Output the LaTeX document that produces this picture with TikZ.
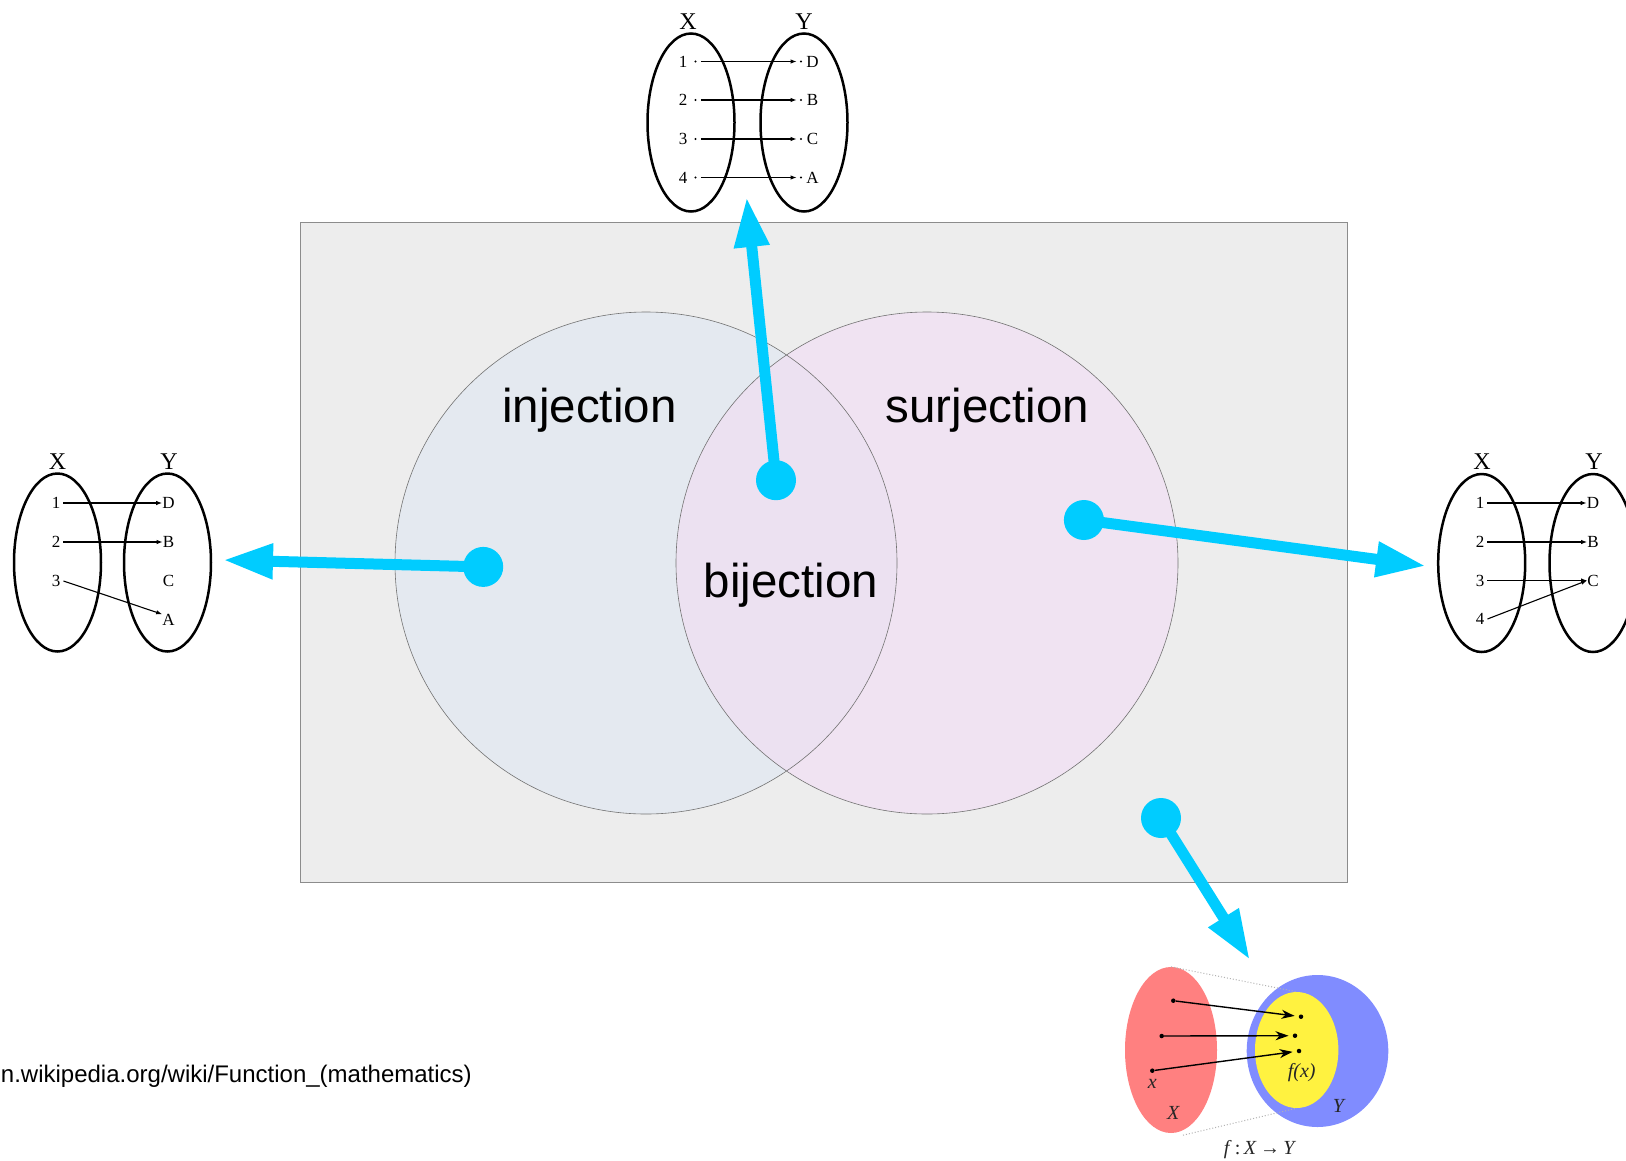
\documentclass[tikz,border=0pt]{standalone}
\usepackage{fontspec}
\setmainfont{Liberation Serif}
\setsansfont{Liberation Sans}
\usetikzlibrary{arrows.meta,shapes.geometric}

\definecolor{pointer}{RGB}{0,204,255}
\definecolor{universebg}{RGB}{237,237,237}
\definecolor{injfill}{RGB}{228,233,240}
\definecolor{surfill}{RGB}{240,227,242}
\definecolor{bijfill}{RGB}{236,225,241}
\definecolor{domred}{RGB}{255,128,128}
\definecolor{codblue}{RGB}{128,140,255}
\definecolor{imgyellow}{RGB}{255,242,64}

\tikzset{
  setoval/.style={draw=black, line width=2.5pt, ellipse, inner sep=0pt,
                  minimum width=87pt, minimum height=178pt},
  elem/.style={font=\fontsize{17}{20}\selectfont, inner sep=0pt},
  setlbl/.style={font=\fontsize{24}{28}\selectfont, inner sep=0pt},
  maparrow/.style={-{Latex[length=6pt,width=4.5pt]}, line width=1.1pt},
  elemdot/.style={circle, fill=black, inner sep=0pt, minimum size=2.4pt},
  bluedot/.style={circle, fill=pointer, inner sep=0pt, minimum size=40pt},
  bluearrow/.style={draw=pointer, line width=11pt,
                    -{Triangle[length=50pt,width=33pt]}},
  venntext/.style={font=\sffamily\fontsize{47.5}{55}\selectfont, inner sep=0pt, anchor=base},
  smallit/.style={font=\itshape\fontsize{20}{24}\selectfont, inner sep=0pt, text=black!85},
  imgarrow/.style={-{Stealth[length=13pt,width=9pt,inset=4pt]}, line width=1.4pt},
}

\begin{document}
\begin{tikzpicture}[x=1pt,y=-1pt]
\path[use as bounding box, fill=white] (0,0) rectangle (1626,1160);

% universe of functions
\node[draw=black!45, fill=universebg, line width=0.7pt, inner sep=0pt,
      minimum width=1046.4pt, minimum height=660.6pt] (universe) at (824,552.2) {};

% injective / surjective regions
\fill[injfill] (646,563) circle[radius=251pt];
\fill[surfill] (927,563) circle[radius=251pt];
\begin{scope}
  \clip (646,563) circle[radius=251pt];
  \fill[bijfill] (927,563) circle[radius=251pt];
\end{scope}
\draw[black!55, line width=0.6pt] (646,563) circle[radius=251pt];
\draw[black!55, line width=0.6pt] (927,563) circle[radius=251pt];

\node[venntext] (inj) at (589.4,422.5) {injection};
\node[venntext] (sur) at (987.3,422.5) {surjection};
\node[venntext] (bij) at (791,597) {bijection};

% ---- bijection example (top)
\node[setoval] (bX) at (691,122.5) {};
\node[setoval] (bY) at (804,122.5) {};
\node[setlbl] (bXl) at (688,22) {X};
\node[setlbl] (bYl) at (804,22) {Y};
\foreach \i/\y/\l in {1/61.5/D, 2/100/B, 3/139/C, 4/177.5/A}{
  \node[elem] (bn\i) at (683,\y) {\i};
  \node[elemdot] (bs\i) at (695.5,\y) {};
  \node[elemdot] (bt\i) at (801,\y) {};
  \node[elem] (bl\i) at (812.5,\y) {\l};
  \draw[maparrow, shorten <=4pt, shorten >=3pt] (bs\i) -- (bt\i);
}

% ---- injection example (left)
\node[setoval] (iX) at (57.5,562.5) {};
\node[setoval] (iY) at (167.5,562.5) {};
\node[setlbl] (iXl) at (57.5,462) {X};
\node[setlbl] (iYl) at (169,462) {Y};
\node[elem] (in1) at (56,503) {1};
\node[elem] (in2) at (56,542) {2};
\node[elem] (in3) at (56,581) {3};
\node[elem] (ilD) at (168.5,503) {D};
\node[elem] (ilB) at (168.5,542) {B};
\node[elem] (ilC) at (168.5,581) {C};
\node[elem] (ilA) at (168.5,620) {A};
\draw[maparrow] (in1.east) ++(3pt,0) coordinate (ia1) (ia1) -- (ilD.west);
\draw[maparrow] (in2.east) ++(3pt,0) coordinate (ia2) (ia2) -- (ilB.west);
\draw[maparrow] (in3.east) ++(3pt,0) coordinate (ia3) (ia3) -- (ilA.north west);

% ---- surjection example (right)
\node[setoval] (sX) at (1481.7,563) {};
\node[setoval] (sY) at (1593,563) {};
\node[setlbl] (sXl) at (1482,462) {X};
\node[setlbl] (sYl) at (1594,462) {Y};
\node[elem] (sn1) at (1480,503) {1};
\node[elem] (sn2) at (1480,542) {2};
\node[elem] (sn3) at (1480,580.5) {3};
\node[elem] (sn4) at (1480,619) {4};
\node[elem] (slD) at (1593,503) {D};
\node[elem] (slB) at (1593,542) {B};
\node[elem] (slC) at (1593,580.5) {C};
\draw[maparrow] (sn1.east) ++(3pt,0) coordinate (sa1) (sa1) -- (slD.west);
\draw[maparrow] (sn2.east) ++(3pt,0) coordinate (sa2) (sa2) -- (slB.west);
\draw[maparrow] (sn3.east) ++(3pt,0) coordinate (sa3) (sa3) -- (slC.west);
\draw[maparrow] (sn4.east) ++(3pt,0) coordinate (sa4) (sa4) -- (slC.west);

% ---- general function (bottom right)
\node[ellipse, fill=domred, inner sep=0pt, minimum width=92pt, minimum height=166pt] (fX) at (1171,1050) {};
\node[ellipse, fill=codblue, inner sep=0pt, minimum width=141.6pt, minimum height=152pt] (fY) at (1317.5,1051) {};
\node[ellipse, fill=imgyellow, inner sep=0pt, minimum width=83.4pt, minimum height=116pt] (fI) at (1296.7,1050) {};
\draw[black!30, dotted, line width=1pt] (fX.north) -- (fI.north);
\draw[black!30, dotted, line width=1pt] (fX.south) ++(12pt,-2pt) coordinate (fXb) (fXb) -- (fI.south);
\node[circle, fill=black, inner sep=0pt, minimum size=4.5pt] (p1) at (1173.3,1000.7) {};
\node[circle, fill=black, inner sep=0pt, minimum size=4.5pt] (p2) at (1161.7,1036) {};
\node[circle, fill=black, inner sep=0pt, minimum size=4.5pt] (p3) at (1152.3,1070.7) {};
\node[circle, fill=black, inner sep=0pt, minimum size=4.5pt] (q1) at (1301,1016.7) {};
\node[circle, fill=black, inner sep=0pt, minimum size=4.5pt] (q2) at (1295,1035.7) {};
\node[circle, fill=black, inner sep=0pt, minimum size=4.5pt] (q3) at (1299,1051) {};
\draw[imgarrow, shorten >=4pt] (p1) -- (q1);
\draw[imgarrow, shorten >=4pt] (p2) -- (q2);
\draw[imgarrow, shorten >=4pt] (p3) -- (q3);
\node[smallit] (lx) at (1152.3,1084) {x};
\node[smallit] (lX) at (1173.3,1113) {X};
\node[smallit] (lfx) at (1301.7,1073) {f(x)};
\node[smallit] (lY) at (1338.3,1106) {Y};
\node[font=\fontsize{20}{24}\selectfont, inner sep=0pt, text=black!85] (lf) at (1260,1150)
  {\textit{f}\,:\,\textit{X}\,→\,\textit{Y}};

% ---- pointers from the Venn regions to their examples
\node[bluedot] (dbij) at (776,480.2) {};
\node[bluedot] (dinj) at (483.2,566.9) {};
\node[bluedot] (dsur) at (1083.9,520) {};
\node[bluedot] (dgen) at (1161,818) {};
\coordinate (tbij) at (746.6,197);
\coordinate (tinj) at (223,560);
\coordinate (tsur) at (1426,566);
\coordinate (tgen) at (1250,960);
\draw[bluearrow] (dbij.center) -- (tbij);
\draw[bluearrow] (dinj.center) -- (tinj);
\draw[bluearrow] (dsur.center) -- (tsur);
\draw[bluearrow] (dgen.center) -- (tgen);

% source
\node[anchor=base east, font=\sffamily\fontsize{24}{28}\selectfont, inner sep=0pt] (src) at (472,1082)
  {n.wikipedia.org/wiki/Function\_(mathematics)};
\end{tikzpicture}
\end{document}
